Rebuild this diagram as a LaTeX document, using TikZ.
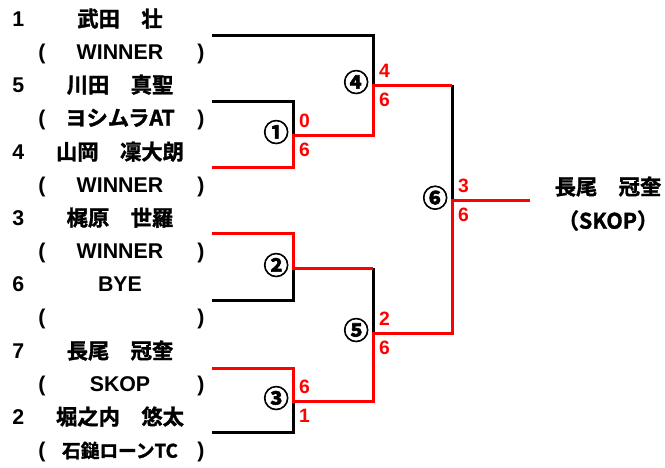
\documentclass[tikz,border=0pt]{standalone}
\usepackage{fontspec}
\setmainfont{Liberation Sans}
\newfontfamily\jp{Noto Sans CJK JP}[BoldFont={Noto Sans CJK JP Bold},BoldFeatures={FakeBold=1.5}]
\newfontfamily\circfont{Noto Sans CJK JP}[BoldFont={Noto Sans CJK JP Bold},BoldFeatures={FakeBold=2.5}]
\usetikzlibrary{positioning}

\begin{document}
\begin{tikzpicture}[x=0.75pt,y=-0.75pt,line width=2.25pt,
		every node/.style={inner sep=0pt,text height=11.5pt,text depth=0pt,
			font=\fontsize{16}{18}\selectfont\bfseries}]
		\tikzstyle{win}=[draw=red]
		\tikzstyle{lose}=[draw=black]
		\tikzstyle{seed}=[anchor=west]
		\tikzstyle{score}=[text=red,text height=10.5pt,font=\fontsize{14.5}{16}\selectfont\bfseries]
		\tikzstyle{match}=[text height=15pt,text depth=2pt,font=\circfont\fontsize{19}{20}\selectfont\bfseries]
		\useasboundingbox (0,0) rectangle (665,468);

		% entrants
		\node[seed] (s1) at (11,19)  {1};
		\node       (n1) at (120,19) {\jp 武田　壮};
		\node       (t1) at (120,52) {WINNER};
		\node[seed] (s5) at (11,85)  {5};
		\node       (n5) at (120,85) {\jp 川田　真聖};
		\node       (t5) at (120,118) {\jp ヨシムラAT};
		\node[seed] (s4) at (11,152) {4};
		\node       (n4) at (120,152) {\jp 山岡　凜大朗};
		\node       (t4) at (120,185) {WINNER};
		\node[seed] (s3) at (11,218) {3};
		\node       (n3) at (120,218) {\jp 梶原　世羅};
		\node       (t3) at (120,251) {WINNER};
		\node[seed] (s6) at (11,284) {6};
		\node       (n6) at (120,284) {BYE};
		\node[seed] (s7) at (11,351) {7};
		\node       (n7) at (120,351) {\jp 長尾　冠奎};
		\node       (t7) at (120,384) {SKOP};
		\node[seed] (s2) at (11,417) {2};
		\node       (n2) at (120,417) {\jp 堀之内　悠太};
		\node       (t2) at (120,450) {\jp\fontsize{14}{16}\selectfont 石鎚ローンTC};
		\foreach \i/\y in {1/52,5/118,4/185,3/251,6/317,7/384,2/450} {
			\node (o\i) at (42,\y)  {(};
			\node (c\i) at (201,\y) {)};
		}
		\node (wn) at (608,187) {\jp 長尾　冠奎};
		\node (wt) at (608,221) {\jp （SKOP）};

		% bracket
		\coordinate (p1) at (212,35);
		\coordinate (p5) at (212,101);
		\coordinate (p4) at (212,167);
		\coordinate (p3) at (212,233);
		\coordinate (p6) at (212,300);
		\coordinate (p7) at (212,368);
		\coordinate (p2) at (212,432);
		\coordinate (m1) at (293,135);
		\coordinate (m2) at (293,268);
		\coordinate (m3) at (293,401);
		\coordinate (m4) at (373,85);
		\coordinate (m5) at (373,333);
		\coordinate (m6) at (452,200);
		\coordinate (w)  at (530,200);

		\draw[lose] (p1) -| (m4);
		\draw[lose] (p5) -| (m1);
		\draw[lose] (p6) -| (m2);
		\draw[lose] (p2) -| (m3);
		\draw[lose] (m2 -| m5) -- (m5);
		\draw[lose] (m4 -| m6) -- (m6);
		\draw[win] (p4) -| (m1) -| (m4) -- (m4 -| m6);
		\draw[win] (p3) -| (m2) -- (m2 -| m5);
		\draw[win] (p7) -| (m3) -| (m5) -| (m6) -- (w);

		% matches and scores
		\node[match, left=2pt of m1, yshift=1.5pt] (l1) {①};
		\node[match, left=2pt of m2, yshift=1.5pt] (l2) {②};
		\node[match, left=2pt of m3, yshift=1.5pt] (l3) {③};
		\node[match, left=2pt of m4, yshift=1.5pt] (l4) {④};
		\node[match, left=2pt of m5, yshift=1.5pt] (l5) {⑤};
		\node[match, left=2pt of m6, yshift=1pt] (l6) {⑥};
		\node[score, above right=4.5pt and 3.5pt of m1] (a1) {0};
		\node[score, below right=4.5pt and 3.5pt of m1] (b1) {6};
		\node[score, above right=4.5pt and 3.5pt of m3] (a3) {6};
		\node[score, below right=4.5pt and 3.5pt of m3] (b3) {1};
		\node[score, above right=4.5pt and 3.5pt of m4] (a4) {4};
		\node[score, below right=4.5pt and 3.5pt of m4] (b4) {6};
		\node[score, above right=4.5pt and 3.5pt of m5] (a5) {2};
		\node[score, below right=4.5pt and 3.5pt of m5] (b5) {6};
		\node[score, above right=4.5pt and 3.5pt of m6] (a6) {3};
		\node[score, below right=4.5pt and 3.5pt of m6] (b6) {6};
	\end{tikzpicture}
\end{document}
